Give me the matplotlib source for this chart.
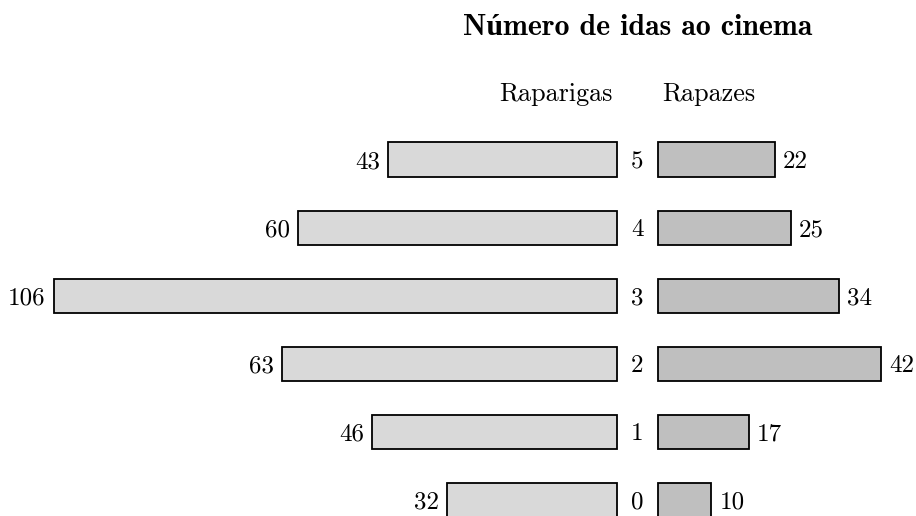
import matplotlib
matplotlib.use("Agg")
import matplotlib.pyplot as plt

plt.rcParams['font.family'] = ['cmr10', 'DejaVu Serif']
plt.rcParams['axes.formatter.use_mathtext'] = True

categories = [0, 1, 2, 3, 4, 5]
raparigas = [32, 46, 63, 106, 60, 43]
rapazes = [10, 17, 42, 34, 25, 22]
title = "Número de idas ao cinema"
left_label = "Raparigas"
right_label = "Rapazes"

gap = 3.92
off = 1.5
fs = 18

fig = plt.figure(figsize=(9.16, 5.16), dpi=100)
ax = fig.add_axes([0, 0, 1, 1])
ax.set_xlim(-120.06, 52.45)
ax.set_ylim(-0.2365, 7.343)
ax.axis('off')

ax.barh(categories, [-v for v in raparigas], left=-gap, height=0.5,
        color='#d9d9d9', edgecolor='black', linewidth=1.3)
ax.barh(categories, rapazes, left=gap, height=0.5,
        color='#bfbfbf', edgecolor='black', linewidth=1.3)

for c, l, r in zip(categories, raparigas, rapazes):
    ax.text(-gap - l - off, c, str(l), ha='right', va='center_baseline', fontsize=fs)
    ax.text(gap + r + off, c, str(r), ha='left', va='center_baseline', fontsize=fs)
    ax.text(0, c, str(c), ha='center', va='center_baseline', fontsize=fs)

ax.text(-gap - 0.8, 6.0, left_label, ha='right', va='center_baseline', fontsize=18.8)
ax.text(gap + 0.8, 6.0, right_label, ha='left', va='center_baseline', fontsize=18.8)
ax.text(0, 6.99, title, ha='center', va='center_baseline', fontsize=21.5,
        fontweight='bold', family=['cmb10', 'Liberation Serif'])

fig.savefig('out.png', dpi=100)
